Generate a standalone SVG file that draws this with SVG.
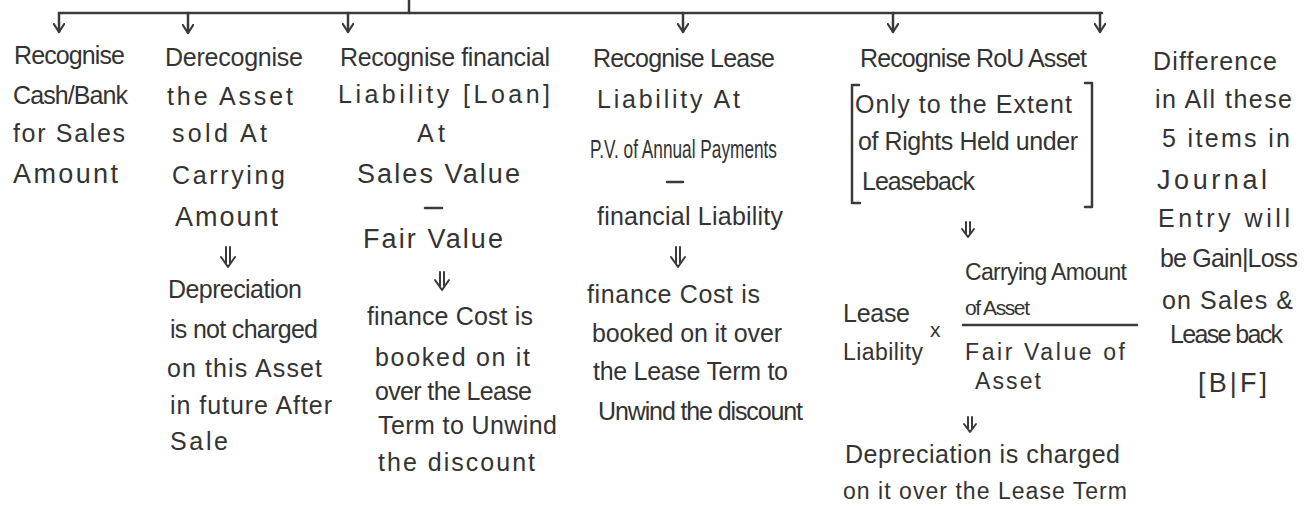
<svg xmlns="http://www.w3.org/2000/svg" width="1304" height="506" viewBox="0 0 1304 506">
<style>
text{font-family:"Liberation Sans","DejaVu Sans",sans-serif;font-size:25px;fill:#333;}
.lg{font-size:27px;}
.md{font-size:23px;}
.sm{font-size:21px;}
.ln{fill:none;stroke:#3a3a3a;stroke-width:2.5;stroke-linecap:round;stroke-linejoin:round;}
.dbl{fill:none;stroke:#3a3a3a;stroke-width:2;stroke-linecap:round;stroke-linejoin:round;}
</style>
<defs>
<marker id="vh" viewBox="0 0 10 12" refX="9" refY="6" markerWidth="10" markerHeight="12" markerUnits="userSpaceOnUse" orient="auto">
<polyline points="1,0.8 9,6 1,11.2" fill="none" stroke="#3a3a3a" stroke-width="2.2" stroke-linecap="round" stroke-linejoin="round"/>
</marker>
</defs>
<rect width="1304" height="506" fill="#ffffff"/>
<g id="connectors">
<path class="ln" d="M409 0 L409 13"/>
<path class="ln" d="M59 13 L1102 13"/>
<path class="ln" d="M59 13 L59 32" marker-end="url(#vh)"/>
<path class="ln" d="M188 13 L188 33" marker-end="url(#vh)"/>
<path class="ln" d="M348 13 L348 32" marker-end="url(#vh)"/>
<path class="ln" d="M683 13 L683 32" marker-end="url(#vh)"/>
<path class="ln" d="M893 13 L893 32" marker-end="url(#vh)"/>
<path class="ln" d="M1100 13 L1100 32" marker-end="url(#vh)"/>
<path class="dbl" d="M226 247 L226 263 M230 247 L230 263 M221 257 L228 267 L235 257"/>
<path class="dbl" d="M440 272 L440 286 M444 272 L444 286 M435 280 L442 290 L449 280"/>
<path class="dbl" d="M676 247 L676 263 M680 247 L680 263 M671 257 L678 267 L685 257"/>
<path class="dbl" d="M966 222 L966 234 M970 222 L970 234 M962 229 L968 237 L974 229"/>
<path class="dbl" d="M968 417 L968 429 M972 417 L972 429 M964 424 L970 432 L976 424"/>
</g>
<g id="node-cash">
<text x="14" y="64" textLength="111" lengthAdjust="spacing">Recognise</text>
<text x="13" y="104" textLength="115" lengthAdjust="spacing">Cash/Bank</text>
<text x="13" y="142" textLength="112" lengthAdjust="spacing">for Sales</text>
<text x="13" y="183" class="lg" textLength="105" lengthAdjust="spacing">Amount</text>
</g>
<g id="node-derecognise">
<text x="165" y="66" textLength="138" lengthAdjust="spacing">Derecognise</text>
<text x="167" y="105" textLength="126" lengthAdjust="spacing">the Asset</text>
<text x="172" y="142" textLength="95" lengthAdjust="spacing">sold At</text>
<text x="172" y="184" textLength="113" lengthAdjust="spacing">Carrying</text>
<text x="175" y="226" class="lg" textLength="103" lengthAdjust="spacing">Amount</text>
<text x="168" y="298" textLength="134" lengthAdjust="spacing">Depreciation</text>
<text x="170" y="338" textLength="148" lengthAdjust="spacing">is not charged</text>
<text x="167" y="377" textLength="155" lengthAdjust="spacing">on this Asset</text>
<text x="170" y="414" textLength="162" lengthAdjust="spacing">in future After</text>
<text x="170" y="450" textLength="58" lengthAdjust="spacing">Sale</text>
</g>
<g id="node-financial-liability">
<text x="340" y="66" textLength="210" lengthAdjust="spacing">Recognise financial</text>
<text x="338" y="103" textLength="212" lengthAdjust="spacing">Liability [Loan]</text>
<text x="417" y="142" textLength="28" lengthAdjust="spacing">At</text>
<text x="357" y="183" class="lg" textLength="163" lengthAdjust="spacing">Sales Value</text>
<path class="ln" d="M425 208 L442 208"/>
<text x="363" y="248" class="lg" textLength="140" lengthAdjust="spacing">Fair Value</text>
<text x="367" y="325" textLength="166" lengthAdjust="spacing">finance Cost is</text>
<text x="375" y="366" textLength="155" lengthAdjust="spacing">booked on it</text>
<text x="375" y="400" textLength="157" lengthAdjust="spacing">over the Lease</text>
<text x="378" y="434" textLength="179" lengthAdjust="spacing">Term to Unwind</text>
<text x="378" y="471" textLength="157" lengthAdjust="spacing">the discount</text>
</g>
<g id="node-lease-liability">
<text x="593" y="67" textLength="182" lengthAdjust="spacing">Recognise Lease</text>
<text x="597" y="108" textLength="143" lengthAdjust="spacing">Liability At</text>
<text x="590" y="158" textLength="187" lengthAdjust="spacingAndGlyphs">P.V. of Annual Payments</text>
<path class="ln" d="M667 182 L683 182"/>
<text x="597" y="225" textLength="186" lengthAdjust="spacing">financial Liability</text>
<text x="587" y="303" textLength="173" lengthAdjust="spacing">finance Cost is</text>
<text x="592" y="342" textLength="190" lengthAdjust="spacing">booked on it over</text>
<text x="593" y="380" textLength="195" lengthAdjust="spacing">the Lease Term to</text>
<text x="598" y="420" textLength="205" lengthAdjust="spacing">Unwind the discount</text>
</g>
<g id="node-rou-asset">
<text x="860" y="67" textLength="227" lengthAdjust="spacing">Recognise RoU Asset</text>
<path class="ln" d="M859 85 L852 85 L852 203 L860 203"/>
<path class="ln" d="M1085 83 L1092 83 L1092 207 L1085 207"/>
<text x="855" y="113" textLength="217" lengthAdjust="spacing">Only to the Extent</text>
<text x="858" y="150" textLength="220" lengthAdjust="spacing">of Rights Held under</text>
<text x="862" y="190" textLength="113" lengthAdjust="spacing">Leaseback</text>
<text x="965" y="280" class="md" textLength="162" lengthAdjust="spacing">Carrying Amount</text>
<text x="965" y="315" class="sm" textLength="65" lengthAdjust="spacing">of Asset</text>
<path class="ln" d="M963 325 L1137 325"/>
<text x="843" y="322" textLength="67" lengthAdjust="spacing">Lease</text>
<text x="930" y="337" class="sm">x</text>
<text x="843" y="360" class="md" textLength="80" lengthAdjust="spacing">Liability</text>
<text x="965" y="360" class="md" textLength="160" lengthAdjust="spacing">Fair Value of</text>
<text x="975" y="389" class="md" textLength="66" lengthAdjust="spacing">Asset</text>
<text x="845" y="463" textLength="275" lengthAdjust="spacing">Depreciation is charged</text>
<text x="843" y="499" class="md" textLength="284" lengthAdjust="spacing">on it over the Lease Term</text>
</g>
<g id="node-difference">
<text x="1153" y="70" textLength="124" lengthAdjust="spacing">Difference</text>
<text x="1155" y="108" textLength="137" lengthAdjust="spacing">in All these</text>
<text x="1162" y="147" textLength="128" lengthAdjust="spacing">5 items in</text>
<text x="1157" y="189" class="lg" textLength="110" lengthAdjust="spacing">Journal</text>
<text x="1158" y="227" textLength="132" lengthAdjust="spacing">Entry will</text>
<text x="1160" y="267" textLength="138" lengthAdjust="spacing">be Gain|Loss</text>
<text x="1162" y="309" textLength="131" lengthAdjust="spacing">on Sales &amp;</text>
<text x="1170" y="343" textLength="113" lengthAdjust="spacing">Lease back</text>
<text x="1198" y="392" class="lg" textLength="69" lengthAdjust="spacing">[B|F]</text>
</g>
</svg>
